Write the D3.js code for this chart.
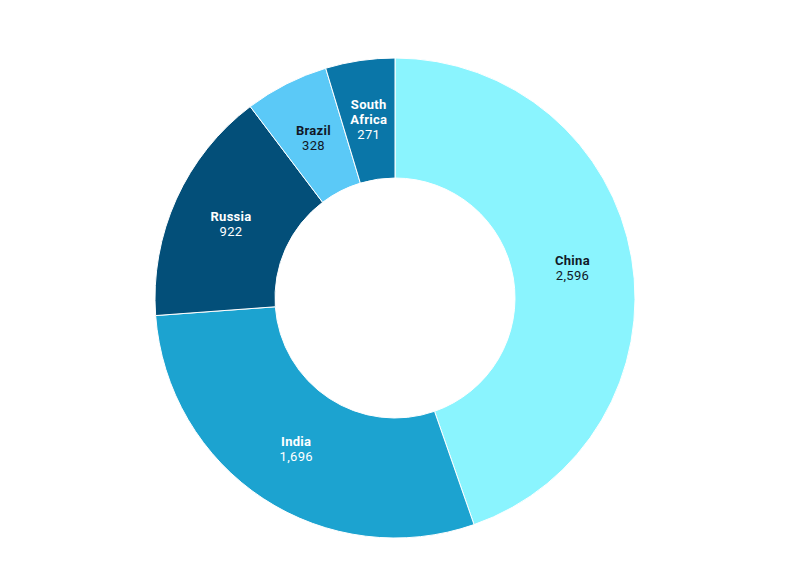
<!DOCTYPE html>
<html><head><meta charset="utf-8">
<script src="https://cdn.jsdelivr.net/npm/d3@7"></script>
<style>html,body{margin:0;padding:0;background:#fff;}svg{display:block;}</style>
</head><body>
<svg id="chart" width="800" height="587"></svg>
<script>
const categories = ["China", "India", "Russia", "Brazil", "South Africa"];
const values = [2596, 1696, 922, 328, 271];
const colors = ["#8af4fe", "#1ca3d0", "#034f79", "#5bc9f7", "#0a76a8"];
const labelColors = ["#111827", "#ffffff", "#ffffff", "#111827", "#ffffff"];
const labelLines = [["China"], ["India"], ["Russia"], ["Brazil"], ["South", "Africa"]];

const data = categories.map((c, i) => ({ name: c, value: values[i], color: colors[i], tc: labelColors[i], lines: labelLines[i] }));

const svg = d3.select("#chart");
const cx = 395, cy = 298, outerR = 240, innerR = 120;
const g = svg.append("g").attr("transform", `translate(${cx},${cy})`);

const pie = d3.pie().value(d => d.value).sort(null);
const arc = d3.arc().innerRadius(innerR).outerRadius(outerR);
const arcs = pie(data);

g.selectAll("path").data(arcs).join("path")
  .attr("d", arc)
  .attr("fill", d => d.data.color)
  .attr("stroke", "#ffffff")
  .attr("stroke-width", 1);

const fmt = d3.format(",");
const lh = 15;
arcs.forEach(a => {
  const [x, y] = arc.centroid(a);
  const lines = a.data.lines.map(t => ({ t, bold: true })).concat([{ t: fmt(a.data.value), bold: false }]);
  const n = lines.length;
  const t = g.append("text")
    .attr("text-anchor", "middle")
    .attr("font-family", "Roboto, sans-serif")
    .attr("font-size", 13)
    .attr("fill", a.data.tc);
  lines.forEach((l, i) => {
    t.append("tspan")
      .attr("x", x)
      .attr("y", y + (i - (n - 1) / 2) * lh)
      .attr("dy", "0.35em")
      .attr("font-weight", l.bold ? 700 : 400)
      .attr("letter-spacing", "0.3px")
      .text(l.t);
  });
});
</script>
</body></html>
